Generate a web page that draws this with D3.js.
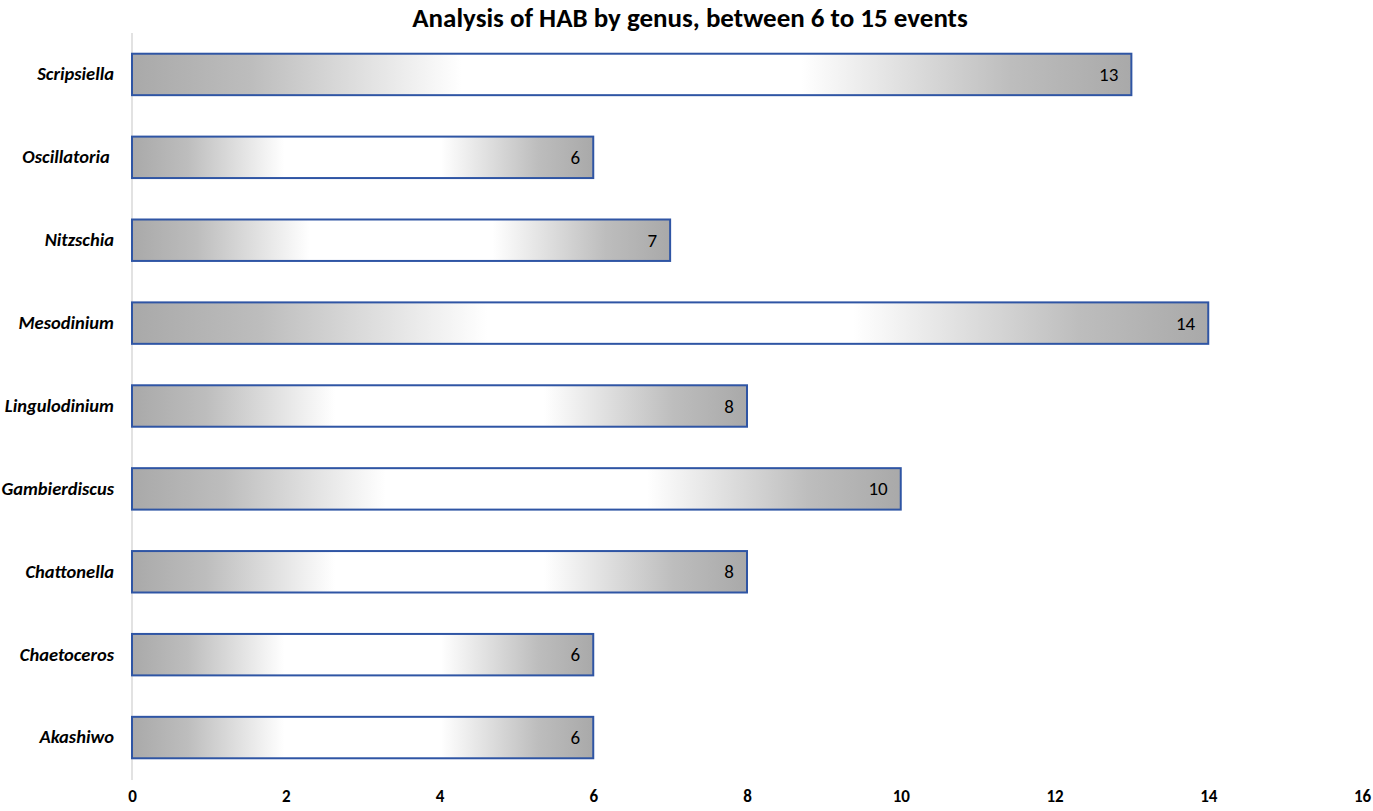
<!DOCTYPE html>
<html><head><meta charset="utf-8">
<script src="https://cdnjs.cloudflare.com/ajax/libs/d3/7.8.5/d3.min.js"></script>
<style>body{margin:0;background:#fff}svg{display:block}</style>
</head><body>
<svg id="c" width="1373" height="811"></svg>
<script>
const categories = ["Scripsiella","Oscillatoria ","Nitzschia","Mesodinium","Lingulodinium","Gambierdiscus","Chattonella","Chaetoceros","Akashiwo"];
const values = [13,6,7,14,8,10,8,6,6];
const xTicks = [0,2,4,6,8,10,12,14,16];
const title = "Analysis of HAB by genus, between 6 to 15 events";

const svg = d3.select("#c");
const font = "Carlito, Calibri, 'Open Sans', 'Liberation Sans', sans-serif";
const x = d3.scaleLinear().domain([0,16]).range([132,1362]);
const y = d3.scaleBand().domain(categories).range([33,779]).paddingInner(0.5).paddingOuter(0.25);

const defs = svg.append("defs");
const g = defs.append("linearGradient").attr("id","grad").attr("x1","0%").attr("x2","100%").attr("y1","0%").attr("y2","0%");
[[0,"#a9a9a9"],[0.12,"#bdbdbd"],[0.33,"#ffffff"],[0.67,"#ffffff"],[0.88,"#bdbdbd"],[1,"#a9a9a9"]].forEach(([o,c])=>g.append("stop").attr("offset",o).attr("stop-color",c));

svg.append("text").attr("x",690).attr("y",27).attr("text-anchor","middle")
  .attr("font-family",font).attr("font-weight","bold").attr("font-size",27).attr("fill","#000").text(title);

svg.append("line").attr("x1",x(0)).attr("x2",x(0)).attr("y1",33).attr("y2",780).attr("stroke","#d9d9d9").attr("stroke-width",1.5);

svg.selectAll("rect.bar").data(values).join("rect").attr("class","bar")
  .attr("x",x(0)).attr("y",(d,i)=>y(categories[i]))
  .attr("width",d=>x(d)-x(0)).attr("height",y.bandwidth())
  .attr("fill","url(#grad)").attr("stroke","#2f55a4").attr("stroke-width",2);

svg.selectAll("text.val").data(values).join("text").attr("class","val")
  .attr("x",d=>x(d)-13).attr("y",(d,i)=>y(categories[i])+y.bandwidth()/2+6.5)
  .attr("text-anchor","end").attr("font-family",font).attr("font-size",19).attr("fill","#000").text(d=>d);

const ya = d3.axisLeft(y).tickSize(0).tickPadding(18);
const yg = svg.append("g").attr("transform",`translate(${x(0)},0)`).call(ya);
yg.select(".domain").remove();
yg.selectAll("text").attr("font-family",font).attr("font-size",18.5).attr("font-weight","bold").attr("font-style","italic").attr("fill","#000").style("white-space","pre");

const xa = d3.axisBottom(x).tickValues(xTicks).tickSize(0).tickPadding(0);
const xg = svg.append("g").attr("transform","translate(0,790)").call(xa);
xg.select(".domain").remove();
xg.selectAll("text").attr("font-family",font).attr("font-size",17).attr("font-weight","bold").attr("fill","#000");
</script>
</body></html>
